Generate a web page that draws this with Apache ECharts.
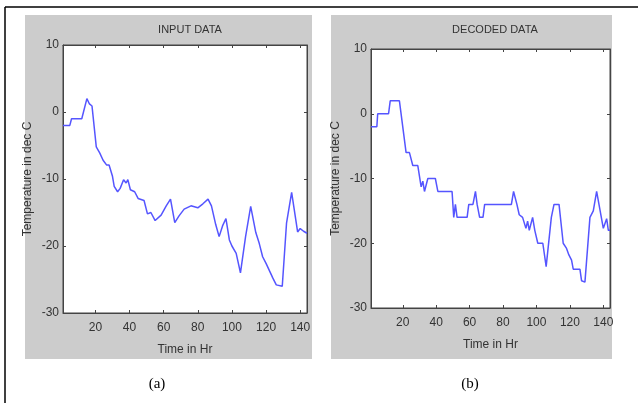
<!DOCTYPE html>
<html>
<head>
<meta charset="utf-8">
<script src="https://cdn.jsdelivr.net/npm/echarts@6/dist/echarts.min.js"></script>
<style>
  html, body { margin: 0; padding: 0; background: #fff; }
  #chart { width: 638px; height: 403px; }
</style>
</head>
<body>
<div id="chart"></div>
<script>
  // values (time in hours, temperature)
  var inputTime = [1, 5, 6, 12, 15, 16.5, 18, 20.5, 22.5, 24.5, 26.5, 28, 30, 31, 33, 34.5, 36.5, 38, 39, 40.5,
    43, 45, 48.5, 50.5, 52.5, 55, 58.5, 61.5, 64, 66.5, 69, 72, 76, 80, 83, 86, 88, 90.5, 92.5, 94.5,
    96.5, 98.5, 100, 102.5, 105, 108, 111, 114, 116, 118, 120, 124, 126, 129.5, 132, 135, 138.5, 140, 142, 144];
  var inputTemp = [-2, -2, -1, -1, 2, 1.2, 0.9, -5.2, -6.1, -7.2, -7.9, -7.9, -9.6, -11.1, -11.9, -11.4, -10.1, -10.6, -10.1, -11.6,
    -11.9, -12.9, -13.2, -15.2, -15, -16.2, -15.4, -14, -13, -16.5, -15.5, -14.5, -14, -14.3, -13.7, -13, -14, -16.8, -18.6, -17,
    -15.9, -19.1, -20, -21.1, -24, -18.6, -14.1, -18, -19.6, -21.6, -22.6, -24.8, -25.8, -26, -16.6, -12, -17.9, -17.4, -17.8, -18.1];

  var decodedTime = [1, 4.5, 5, 11.5, 12.5, 18, 22, 24, 26, 29, 31, 32, 33, 34, 35, 39.5, 41, 49.5, 50.5, 51.5,
    52.5, 58.5, 59.5, 62, 63.5, 64.5, 66, 68, 69, 85, 86.3, 88.3, 89.7, 91.7, 93.7, 94.7, 95.7, 97.7, 99, 100.8,
    103.8, 105.8, 108.9, 110.5, 113.5, 116, 118, 119.4, 121, 122, 126, 127, 129, 132, 134, 136, 137, 140, 141, 142, 143, 144];
  var decodedTemp = [-2, -2, 0, 0, 2, 2, -6, -6, -8, -8, -11.3, -10.4, -12, -11, -10, -10, -12, -12, -16, -14,
    -16, -16, -14, -14, -12, -14, -16, -16, -14, -14, -12, -14, -15.6, -16, -17.7, -16.6, -18, -16, -18, -20,
    -20, -23.6, -16, -14, -14, -20, -20.8, -21.8, -22.6, -24, -24, -25.8, -26, -16, -15, -12, -12, -17.7, -18, -16.2, -18, -18];

  var xTicks = [20, 40, 60, 80, 100, 120, 140];
  var panelTitles = ['INPUT DATA', 'DECODED DATA'];
  var captions = ['(a)', '(b)'];

  function pairs(xs, ys) {
    return xs.map(function (x, i) { return [x, ys[i]]; });
  }

  var font = 'Liberation Sans, Arial, sans-serif';
  var boxes = [
    { left: 63, top: 45, width: 244, height: 268, cx: 185 },
    { left: 371, top: 49, width: 239, height: 259, cx: 490 }
  ];

  var grids = [], xAxes = [], yAxes = [], titles = [];
  boxes.forEach(function (b, i) {
    grids.push({
      left: b.left, top: b.top, width: b.width, height: b.height,
      show: true, backgroundColor: '#fff', borderColor: '#444', borderWidth: 1
    });
    var xBase = {
      type: 'value', gridIndex: i, min: 1, max: 144,
      axisLine: { show: true, onZero: false, lineStyle: { color: '#444' } },
      axisTick: { show: true, inside: true, length: 3, customValues: xTicks, lineStyle: { color: '#444' } },
      splitLine: { show: false }
    };
    xAxes.push(Object.assign({}, xBase, {
      position: 'bottom',
      axisLabel: { customValues: xTicks, color: '#333', fontSize: 12, fontFamily: font, margin: 9 },
      name: 'Time in Hr', nameLocation: 'middle', nameGap: 31,
      nameTextStyle: { color: '#333', fontSize: 12, fontFamily: font }
    }));
    xAxes.push(Object.assign({}, xBase, { position: 'top', axisLabel: { show: false } }));
    var yBase = {
      type: 'value', gridIndex: i, min: -30, max: 10, interval: 10,
      axisLine: { show: true, onZero: false, lineStyle: { color: '#444' } },
      axisTick: { show: true, inside: true, length: 3, lineStyle: { color: '#444' } },
      splitLine: { show: false }
    };
    yAxes.push(Object.assign({}, yBase, {
      position: 'left',
      axisLabel: { color: '#333', fontSize: 12, fontFamily: font, margin: 4 },
      name: 'Temperature in dec C', nameLocation: 'middle', nameGap: 29,
      nameTextStyle: { color: '#333', fontSize: 12, fontFamily: font }
    }));
    yAxes.push(Object.assign({}, yBase, { position: 'right', axisLabel: { show: false } }));
    titles.push({
      text: panelTitles[i], left: b.cx, top: 19, textAlign: 'center',
      textStyle: { color: '#333', fontSize: 11, fontWeight: 'normal', fontFamily: font }
    });
  });

  var series = [
    { type: 'line', xAxisIndex: 0, yAxisIndex: 0, data: pairs(inputTime, inputTemp) },
    { type: 'line', xAxisIndex: 2, yAxisIndex: 2, data: pairs(decodedTime, decodedTemp) }
  ].map(function (s) {
    return Object.assign(s, {
      showSymbol: false, silent: true, animation: false,
      lineStyle: { color: '#5555ff', width: 1.5 }
    });
  });

  var chart = echarts.init(document.getElementById('chart'));
  chart.setOption({
    animation: false,
    title: titles,
    grid: grids,
    xAxis: xAxes,
    yAxis: yAxes,
    series: series,
    graphic: [
      { type: 'rect', z: -10, shape: { x: 25, y: 15, width: 287, height: 344 }, style: { fill: '#cccccc' } },
      { type: 'rect', z: -10, shape: { x: 331, y: 15, width: 281, height: 344 }, style: { fill: '#cccccc' } },
      { type: 'line', shape: { x1: 5, y1: 7, x2: 638, y2: 7 }, style: { stroke: '#000', lineWidth: 1.5 } },
      { type: 'line', shape: { x1: 5, y1: 7, x2: 5, y2: 403 }, style: { stroke: '#000', lineWidth: 1.5 } },
      { type: 'text', x: 157, y: 384, style: { text: captions[0], fill: '#000', font: '15px Liberation Serif, serif', align: 'center', verticalAlign: 'middle' } },
      { type: 'text', x: 470, y: 384, style: { text: captions[1], fill: '#000', font: '15px Liberation Serif, serif', align: 'center', verticalAlign: 'middle' } }
    ]
  });
</script>
</body>
</html>
